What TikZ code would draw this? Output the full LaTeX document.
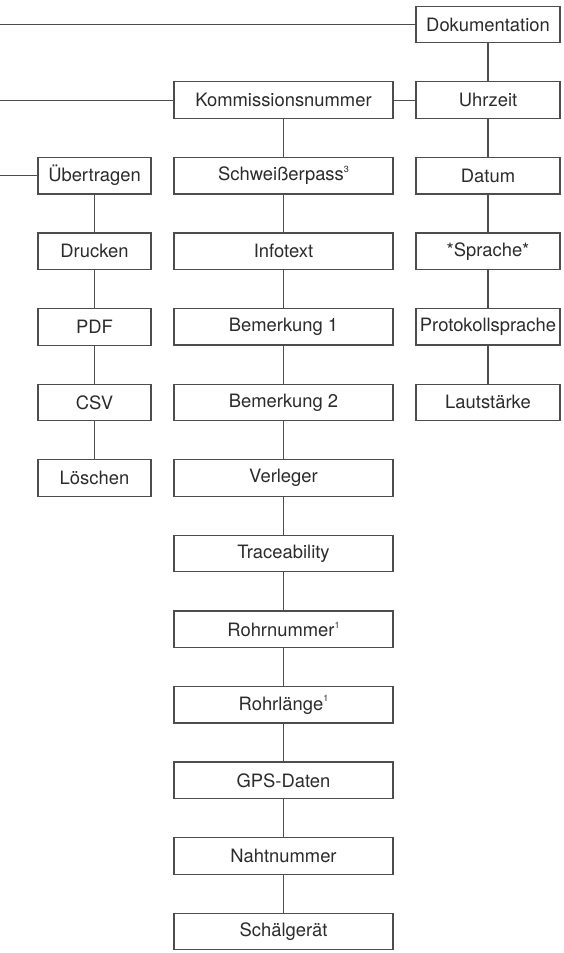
\documentclass[tikz,border=0pt]{standalone}
\usepackage{fontspec}
\setmainfont{TeX Gyre Heros}
\usetikzlibrary{positioning}
\definecolor{linegray}{HTML}{4D4D4D}
\definecolor{textgray}{HTML}{2B2B2B}
\newcommand{\fnmark}[1]{\raisebox{0.85ex}{\fontsize{4.5pt}{5pt}\selectfont #1}}
\tikzset{
  menubox/.style={draw=linegray, line width=0.6pt, text=textgray, inner sep=0pt,
    outer sep=0pt, minimum height=18.25pt, font=\fontsize{9.2pt}{11pt}\selectfont},
  leftbox/.style={menubox, minimum width=56.5pt},
  midbox/.style={menubox, minimum width=109.5pt},
  rightbox/.style={menubox, minimum width=72pt},
  link/.style={draw=linegray, line width=0.6pt}
}
\begin{document}
\begin{tikzpicture}[x=0.5pt, y=-0.5pt, node distance=19.54pt]

\useasboundingbox (0,0) rectangle (563,953);
\coordinate (edge) at (0,0);

% right column
\node[rightbox] (doku) at (488,24.5) {Dokumentation};
\node[rightbox] (uhrzeit) at (488,100.1) {Uhrzeit};
\node[rightbox] (datum) [below=of uhrzeit] {Datum};
\node[rightbox] (sprache) [below=of datum] {*Sprache*};
\node[rightbox] (protsprache) [below=of sprache] {Protokollsprache};
\node[rightbox] (lautst) [below=of protsprache] {Lautstärke};

% middle column
\node[midbox] (kommnr) at (283.5,100.1) {Kommissionsnummer};
\node[midbox] (schwpass) [below=of kommnr] {Schweißerpass\fnmark{3}};
\node[midbox] (infotext) [below=of schwpass] {Infotext};
\node[midbox] (bem1) [below=of infotext] {Bemerkung 1};
\node[midbox] (bem2) [below=of bem1] {Bemerkung 2};
\node[midbox] (verleger) [below=of bem2] {Verleger};
\node[midbox] (trace) [below=of verleger] {Traceability};
\node[midbox] (rohrnr) [below=of trace] {Rohrnummer\fnmark{1}};
\node[midbox] (rohrlg) [below=of rohrnr] {Rohrlänge\fnmark{1}};
\node[midbox] (gps) [below=of rohrlg] {GPS-Daten};
\node[midbox] (nahtnr) [below=of gps] {Nahtnummer};
\node[midbox] (schaeler) [below=of nahtnr] {Schälgerät};

% left column
\node[leftbox] (uebertr) at (94.5,175.7) {Übertragen};
\node[leftbox] (drucken) [below=of uebertr] {Drucken};
\node[leftbox] (pdf) [below=of drucken] {PDF};
\node[leftbox] (csv) [below=of pdf] {CSV};
\node[leftbox] (loeschen) [below=of csv] {Löschen};

% connectors
\draw[link] (doku) -- (uhrzeit) -- (datum) -- (sprache) -- (protsprache) -- (lautst);
\draw[link] (kommnr) -- (schwpass) -- (infotext) -- (bem1) -- (bem2) -- (verleger)
  -- (trace) -- (rohrnr) -- (rohrlg) -- (gps) -- (nahtnr) -- (schaeler);
\draw[link] (uebertr) -- (drucken) -- (pdf) -- (csv) -- (loeschen);
\draw[link] (kommnr) -- (uhrzeit);

\draw[link] (doku.west) -- (doku.west -| edge);
\draw[link] (kommnr.west) -- (kommnr.west -| edge);
\draw[link] (uebertr.west) -- (uebertr.west -| edge);

\end{tikzpicture}
\end{document}
